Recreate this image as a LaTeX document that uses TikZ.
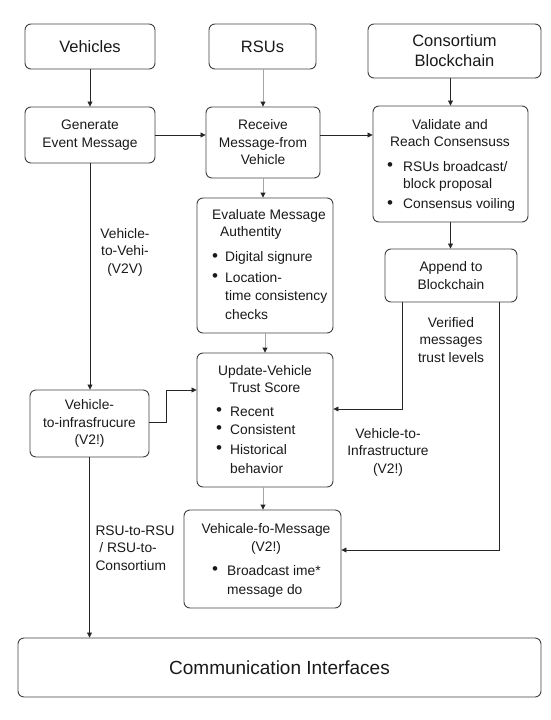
\documentclass[tikz,border=0pt]{standalone}
\usepackage{fontspec}
\setmainfont{Liberation Sans}
\usetikzlibrary{arrows.meta}

\begin{document}
\begin{tikzpicture}[x=1pt, y=-1pt,
	box/.style={draw=black!75, line width=0.9pt, rounded corners=6pt, inner sep=0pt, align=center, text=black!90},
	big/.style={font=\fontsize{16.5}{20}\selectfont},
	txt/.style={font=\fontsize{13.8}{17.5}\selectfont, text=black!90, inner sep=0pt},
	dot/.style={font=\fontsize{17}{17}\selectfont, text=black!90, inner sep=0pt},
	lbl/.style={txt, align=center},
	arr/.style={draw=black!85, line width=0.8pt, -{Triangle[length=5pt,width=5pt]}},
	garr/.style={draw=black!35, line width=0.9pt, -{Triangle[length=5pt,width=5pt,color=black!85]}}]
	\useasboundingbox (0,0) rectangle (551,720);
	\node[box, big, minimum width=130, minimum height=45] (veh) at (90,46.5) {Vehicles};
	\node[box, big, minimum width=107, minimum height=45] (rsu) at (262.5,46.5) {RSUs};
	\node[box, big, minimum width=173, minimum height=54] (cbc) at (454.5,51) {Consortium\\Blockchain};
	\node[box, txt, align=center, minimum width=130, minimum height=56] (gen) at (90,135) {Generate\\Event Message};
	\node[box, txt, align=center, minimum width=114, minimum height=71] (rcv) at (263,142.5) {Receive\\Message-from\\Vehicle};
	\node[box, minimum width=155, minimum height=116] (val) at (450.5,164) {};
	\node[lbl] (valt) at (450,133) {Validate and\\Reach Consensuss};
	\node[dot] (valb1) at (390,167) {\textbullet};
	\node[txt, anchor=west] (val1) at (403,167) {RSUs broadcast/};
	\node[txt, anchor=west] (val1b) at (403,185) {block proposal};
	\node[dot] (valb2) at (390,205) {\textbullet};
	\node[txt, anchor=west] (val2) at (403,205) {Consensus voiling};
	\node[box, minimum width=136, minimum height=135] (eva) at (265,265.5) {};
	\node[txt, anchor=west] (evat) at (212,216) {Evaluate Message};
	\node[txt, anchor=west] (evat2) at (220,233) {Authentity};
	\node[dot] (evab1) at (215,258) {\textbullet};
	\node[txt, anchor=west] (eva1) at (225,258) {Digital signure};
	\node[dot] (evab2) at (215,278) {\textbullet};
	\node[txt, anchor=west] (eva2) at (225,278) {Location-};
	\node[txt, anchor=west] (eva2b) at (225,297) {time consistency};
	\node[txt, anchor=west] (eva2c) at (225,315) {checks};
	\node[box, txt, align=center, minimum width=132, minimum height=53] (app) at (451,275.5) {Append to\\Blockchain};
	\node[box, txt, align=center, minimum width=119, minimum height=67] (v2i) at (89.5,423.5) {Vehicle-\\to-infrasfrucure\\(V2!)};
	\node[box, minimum width=136, minimum height=134] (upd) at (265,420) {};
	\node[lbl] (updt) at (265,379) {Update-Vehicle\\Trust Score};
	\node[dot] (updb1) at (219,412) {\textbullet};
	\node[txt, anchor=west] (upd1) at (230,412) {Recent};
	\node[dot] (updb2) at (219,430) {\textbullet};
	\node[txt, anchor=west] (upd2) at (230,430) {Consistent};
	\node[dot] (updb3) at (219,450) {\textbullet};
	\node[txt, anchor=west] (upd3) at (230,450) {Historical};
	\node[txt, anchor=west] (upd3b) at (230,469) {behavior};
	\node[box, minimum width=157, minimum height=98] (vfm) at (262.5,559) {};
	\node[lbl] (vfmt) at (266,539) {Vehicale-fo-Message\\(V2!)};
	\node[dot] (vfmb1) at (215,571) {\textbullet};
	\node[txt, anchor=west] (vfm1) at (227,571) {Broadcast ime*};
	\node[txt, anchor=west] (vfm1b) at (227,591) {message do};
	\node[box, font=\fontsize{19}{22}\selectfont, minimum width=523, minimum height=59] (com) at (279.5,667.5) {Communication Interfaces};
	\node[lbl] (lv2v) at (125,252) {Vehicle-\\to-Vehi-\\(V2V)};
	\node[lbl] (lver) at (451,340) {Verified\\messages\\trust levels};
	\node[lbl] (lv2i) at (388,452) {Vehicle-to-\\Infrastructure\\(V2!)};
	\node[lbl, align=left] (lrsu) at (135,548) {RSU-to-RSU\\\ / RSU-to-\\Consortium};
	\draw[arr] (veh) -- (gen);
	\draw[garr] (rsu.south -| rcv.north) -- (rcv.north);
	\draw[arr] (val.north |- cbc.south) -- (val.north);
	\draw[arr] (gen.east) -- (gen.east -| rcv.west);
	\draw[arr] (gen.east -| rcv.east) -- (gen.east -| val.west);
	\draw[garr] (rcv.south) -- (rcv.south |- eva.north);
	\draw[arr] (val.south) -- (val.south |- app.north);
	\draw[arr] (gen.south) -- (gen.south |- v2i.north);
	\draw[arr] ([yshift=1.5pt]v2i.east) -- ++(17,0) |- ([yshift=30pt]upd.west);
	\draw[garr] (eva.south) -- (upd.north);
	\draw[arr] ([xshift=-49pt]app.south) |- ([yshift=11pt]upd.east);
	\draw[arr] ([xshift=48pt]app.south) |- ([yshift=9pt]vfm.east);
	\draw[garr] (upd.south -| rcv.south) -- (rcv.south |- vfm.north);
	\draw[arr] (v2i.south) -- (v2i.south |- com.north);
\end{tikzpicture}
\end{document}
